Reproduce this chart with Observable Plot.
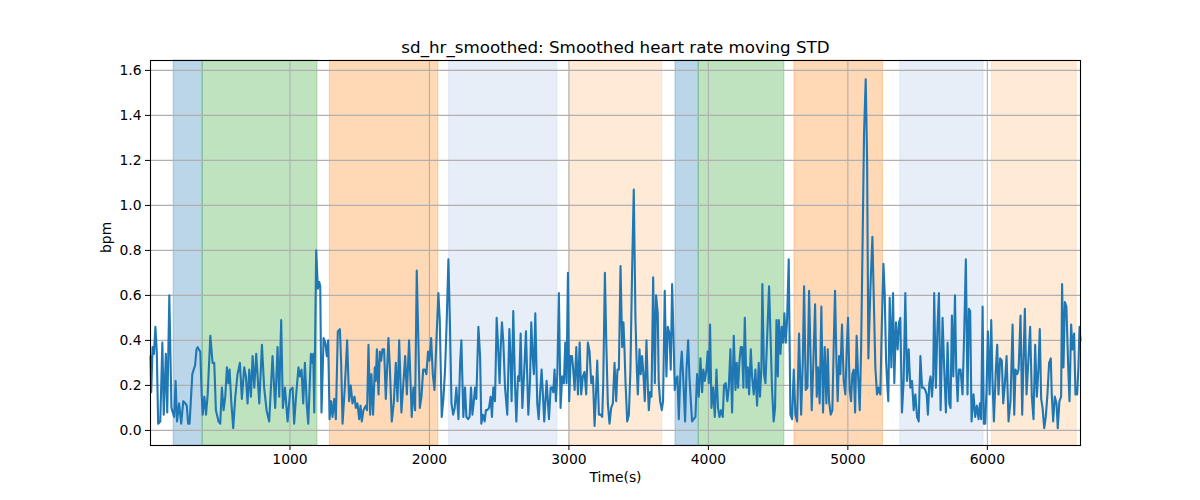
<!DOCTYPE html>
<html>
<head>
<meta charset="utf-8">
<script src="https://cdn.jsdelivr.net/npm/d3@7"></script>
<script src="https://cdn.jsdelivr.net/npm/@observablehq/plot@0.6"></script>
<style>
  html, body { margin: 0; padding: 0; background: white; }
  #chart { width: 1200px; height: 500px; }
</style>
</head>
<body>
<div id="chart"></div>
<script>
// Time (s) and smoothed heart-rate moving STD (bpm)
const timeS = [
  0,5,15,25,35,45,55,70,85,95,110,120,135,150,160,170,180,190,205,220,235,250,260,270,280,300,320,330,
  338,357,367,374,386,398,410,429,445,457,469,488,500,512,524,536,548,558,567,579,593,608,624,641,655,672,684,696,708,720,732,744,758,768,780,799,815,832,851,875,894,911,923,937,949,964,983,1002,1019,1030,1042,1061,1071,1083,1095,1107,1121,1131,
  1150,1162,1167,1174,1188,1200,1210,1217,1226,1241,1253,1264,1274,1284,1295,1305,1317,1329,1343,1358,1367,1377,1393,1410,1424,1436,1448,1463,1472,1484,1496,1506,1515,1527,1544,1553,1563,1575,1584,1596,1608,1615,1623,1635,1644,1654,1663,1675,1687,1706,1716,1730,1744,1759,1771,1783,1799,1811,1826,1838,1854,1873,1885,1897,1909,1919,1931,1943,1955,1967,1978,1990,2000,2012,2024,2036,2050,2064,2074,2088,2100,2112,2124,2136,2146,2158,2170,2181,2193,2208,2220,2229,
  2243,2255,2265,2277,2288,2298,2308,2317,2327,2336,2351,2363,2372,2384,2396,2405,2415,2427,2439,2448,2458,2470,2482,2491,2503,2511,2520,2530,2542,2558,2573,2582,2589,2601,2613,2623,2635,2644,2654,2666,2680,2692,2709,2721,2730,2740,2749,2759,2773,2783,2792,2804,2811,2823,2840,2857,2869,2881,2888,2897,2907,2917,2928,2940,2952,2964,2974,2983,2993,3002,3012,3022,3031,3041,3053,3065,3077,3088,3100,3112,3124,3136,3148,3160,3172,3184,3194,3203,3215,3227,3239,3246,3258,3268,3279,3291,3303,3315,3327,3339,
  3348,3358,3370,3382,3391,3398,3406,3418,3430,3441,3453,3465,3477,3487,3494,3506,3515,3525,3535,3544,3556,3566,3573,3582,3592,3604,3616,3625,3637,3644,3654,3666,3675,3687,3699,3709,3721,3730,3740,3750,3759,3769,3778,3788,3800,3809,3819,3833,3843,3855,3864,3874,3883,3895,3907,3919,3931,3943,3955,3964,3974,3986,3995,4003,4012,4022,4034,4046,4058,4069,4079,4091,4103,4112,4124,4136,4146,4158,4170,4182,4194,4203,4213,4222,4232,4241,4251,4261,4273,4282,4292,4304,4313,4325,4337,4349,4361,4370,4380,4387,4399,4409,4423,4435,4447,4456,4468,
  4478,4488,4498,4505,4517,4526,4536,4545,4555,4564,4576,4588,4600,4612,4624,4636,4650,4665,4677,4686,4698,4710,4722,4732,4741,4753,4765,4777,4786,4798,4810,4822,4834,4846,4856,4865,4877,4889,4899,4908,4918,4927,4937,4946,4958,4970,4982,4992,5001,5013,5023,5032,5042,5052,5063,5073,5085,5095,5104,5116,5128,5138,5147,5161,5176,5185,5197,5209,5221,5233,5243,5255,5264,5274,5281,5290,5300,5312,5324,5333,5345,5357,5367,5376,5388,5400,5412,5424,5436,5448,5460,5472,5484,5496,5508,5520,5532,5543,5555,
  5565,5574,5584,5593,5603,5612,5619,5631,5643,5653,5665,5679,5691,5703,5715,5727,5736,5746,5756,5768,5777,5787,5796,5808,5822,5834,5846,5858,5868,5877,5887,5901,5913,5925,5937,5947,5956,5966,5975,5985,5994,6004,6016,6028,6037,6047,6061,6071,6080,6092,6104,6114,6126,6138,6152,6166,6181,6193,6202,6214,6224,6238,6250,6259,6269,6281,6295,6307,6319,6331,6343,6355,6367,6376,6386,6396,6408,6419,6431,6443,6455,6462,6472,6484,6496,6505,6517,6529,6536,6546,6556,6567,6579,6589,6601,6610,6622,6632,6644,6653,6661,6668
];
const sdHr = [
  .33,.17,.37,.34,.46,.35,.03,.04,.39,.07,.34,.08,.60,.10,.08,.06,.22,.04,.12,.03,.13,.12,.11,.03,.03,.25,.29,.36,
  .37,.35,.16,.07,.15,.07,.16,.42,.30,.30,.09,.04,.03,.19,.09,.15,.28,.21,.27,.13,.01,.15,.25,.30,.14,.28,.24,.12,.27,.15,.33,.19,.34,.24,.12,.38,.19,.09,.04,.33,.10,.37,.15,.49,.10,.19,.04,.18,.19,.03,.14,.28,.24,.27,.12,.30,.11,.03,
  .34,.30,.34,.08,.80,.63,.66,.64,.08,.41,.39,.33,.40,.05,.13,.06,.14,.05,.44,.45,.30,.03,.19,.40,.13,.20,.12,.15,.10,.12,.05,.11,.04,.09,.11,.09,.38,.07,.25,.07,.28,.22,.36,.16,.35,.31,.36,.36,.14,.41,.28,.04,.12,.30,.13,.40,.08,.19,.33,.16,.40,.06,.19,.09,.71,.44,.10,.15,.27,.27,.25,.35,.31,.41,.25,.18,.40,.61,.49,.06,.14,.27,.49,.76,.50,.12,.07,.10,.19,.05,.30,.40,
  .06,.19,.06,.05,.06,.19,.07,.12,.19,.14,.46,.33,.03,.07,.04,.09,.09,.10,.15,.06,.19,.13,.50,.39,.21,.37,.48,.39,.19,.07,.45,.31,.13,.53,.21,.04,.24,.22,.43,.10,.27,.44,.07,.22,.48,.33,.25,.52,.12,.05,.15,.27,.19,.04,.22,.05,.19,.19,.17,.27,.13,.25,.61,.10,.24,.21,.39,.21,.70,.13,.33,.33,.27,.18,.37,.16,.39,.16,.24,.26,.16,.39,.35,.21,.24,.02,.16,.31,.07,.07,.06,.21,.70,.39,.12,.03,.10,.12,.30,.13,
  .27,.27,.73,.37,.48,.37,.21,.04,.07,.27,.71,1.07,.50,.27,.16,.36,.25,.33,.24,.13,.40,.19,.09,.17,.15,.68,.21,.60,.52,.21,.13,.09,.13,.62,.24,.46,.43,.27,.65,.41,.18,.23,.24,.05,.27,.35,.24,.04,.27,.40,.24,.13,.04,.05,.06,.25,.15,.32,.17,.27,.22,.27,.35,.21,.47,.10,.19,.06,.27,.10,.06,.09,.06,.20,.21,.13,.19,.36,.08,.42,.18,.30,.19,.30,.37,.37,.19,.50,.19,.28,.16,.36,.24,.16,.27,.11,.30,.15,.28,.65,.25,.21,.44,.64,.39,.19,.04,
  .10,.49,.24,.49,.34,.46,.39,.52,.39,.49,.76,.07,.05,.27,.07,.04,.43,.07,.31,.64,.18,.19,.62,.34,.09,.31,.56,.15,.28,.12,.55,.08,.37,.12,.36,.13,.07,.09,.39,.62,.31,.13,.33,.25,.47,.22,.16,.36,.50,.18,.13,.25,.27,.08,.42,.25,.09,.36,.76,1.32,1.56,1.20,.32,.62,.86,.61,.28,.16,.19,.16,.46,.74,.61,.31,.22,.13,.59,.28,.61,.21,.48,.36,.48,.50,.08,.22,.61,.22,.36,.19,.22,.09,.16,.06,.04,.33,.19,.19,.18,
  .16,.07,.21,.24,.15,.24,.61,.19,.47,.61,.09,.50,.27,.08,.39,.12,.10,.51,.24,.60,.27,.13,.27,.27,.16,.43,.76,.16,.54,.53,.04,.16,.06,.11,.05,.12,.05,.55,.03,.03,.18,.44,.16,.49,.22,.04,.27,.38,.16,.32,.31,.12,.21,.33,.04,.13,.47,.07,.27,.25,.27,.51,.07,.30,.54,.16,.32,.46,.15,.05,.38,.15,.28,.45,.14,.10,.01,.06,.16,.30,.32,.16,.04,.15,.12,.01,.13,.15,.65,.28,.57,.55,.30,.13,.47,.36,.43,.16,.16,.28,.46,.40
];

// Shaded phases (start/end in seconds)
const bandStart = [166, 374, 1286, 2141, 3003, 3764, 3931, 4617, 5376, 6033];
const bandEnd   = [374, 1197, 2064, 2917, 3669, 3931, 4545, 5252, 5973, 6641];
const bandPhase = ["P1","P2","P3","P4","P5","P1","P2","P3","P4","P5"];
const phases = ["P1","P2","P3","P4","P5"];
const phaseColors = ["#1f77b4","#2ca02c","#ff7f0e","#aec7e8","#ffbb78"];

const xTicks = [1000, 2000, 3000, 4000, 5000, 6000];
const yTicks = [0, 0.2, 0.4, 0.6, 0.8, 1.0, 1.2, 1.4, 1.6];
const xDomain = [0, 6668];
const yDomain = [-0.067, 1.644];

const titleText = "sd_hr_smoothed: Smoothed heart rate moving STD";
const xLabel = "Time(s)";
const yLabel = "bpm";

const series = timeS.map((t, i) => ({t, v: sdHr[i]}));
const bands = bandStart.map((s, i) => ({s, e: bandEnd[i], p: bandPhase[i]}));

const chart = Plot.plot({
  width: 1200,
  height: 500,
  marginLeft: 150,
  marginRight: 120,
  marginTop: 60,
  marginBottom: 55,
  style: {fontFamily: "'DejaVu Sans', sans-serif", fontSize: "13.9px", color: "black", background: "white", overflow: "visible"},
  x: {domain: xDomain, label: null},
  y: {domain: yDomain, label: null},
  color: {domain: phases, range: phaseColors},
  marks: [
    Plot.rect(bands, {x1: "s", x2: "e", fill: "p", fillOpacity: 0.3, stroke: "p", strokeOpacity: 0.3, strokeWidth: 1}),
    Plot.gridX(xTicks, {stroke: "#b0b0b0", strokeOpacity: 1, strokeWidth: 1.1}),
    Plot.gridY(yTicks, {stroke: "#b0b0b0", strokeOpacity: 1, strokeWidth: 1.1}),
    Plot.line(series, {x: "t", y: "v", stroke: "#1f77b4", strokeWidth: 2.1, strokeLinejoin: "round"}),
    Plot.frame({stroke: "black", strokeWidth: 1.1}),
    Plot.axisX(xTicks, {tickFormat: "d", tickSize: 5, tickPadding: 4, label: null, fontSize: 13.9, stroke: "black"}),
    Plot.axisY(yTicks, {tickFormat: ".1f", tickSize: 5, tickPadding: 4, label: null, fontSize: 13.9, stroke: "black"}),
    Plot.text([titleText], {frameAnchor: "top", dy: -19, fontSize: 16.7, fill: "black"}),
    Plot.text([xLabel], {frameAnchor: "bottom", dy: 36, fontSize: 13.9, fill: "black"}),
    Plot.text([yLabel], {frameAnchor: "left", dx: -44, rotate: -90, fontSize: 13.9, fill: "black"})
  ]
});
document.getElementById("chart").appendChild(chart);
</script>
</body>
</html>
